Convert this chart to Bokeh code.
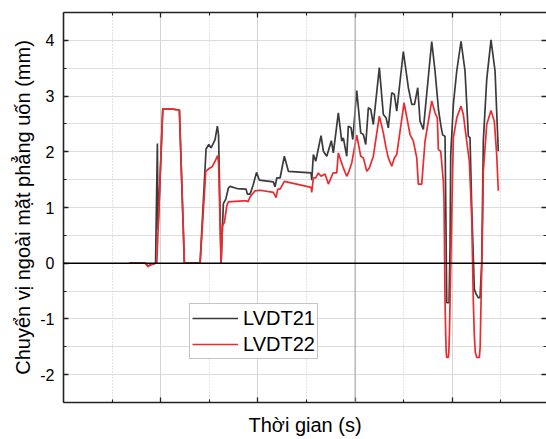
from bokeh.plotting import figure
from bokeh.models import FixedTicker, LinearAxis, Span, Legend, LegendItem, Range1d
from bokeh.embed import file_html
from bokeh.resources import INLINE

# ---- data (time in arbitrary units, displacement in mm) ----
t_lvdt21 = [135.0, 167.9, 174.1, 178.2, 189.5, 193.2, 194.6, 204.3, 219.3, 238.5, 248.8, 281.1,
            293.4, 299.0, 303.7, 307.8, 311.9, 316.7, 319.1, 324.3, 329.0, 334.0, 339.3, 342.8,
            357.2, 375.7, 378.4, 384.0, 390.1, 397.3, 403.1, 431.9, 435.4, 438.9, 445.7, 454.5,
            462.8, 509.5, 510.9, 514.2, 519.1, 530.0, 534.8, 541.8, 551.2, 555.4, 565.6, 572.6,
            575.9, 582.9, 586.2, 591.8, 595.3, 603.5, 611.7, 617.1, 622.0, 627.4, 632.3, 637.6,
            650.0, 658.2, 663.8, 668.5, 675.5, 680.9, 685.8, 699.4, 709.7, 716.7, 722.4, 729.0,
            733.7, 740.5, 757.8, 764.6, 771.8, 777.0, 780.4, 785.2, 786.6, 788.7, 793.4, 795.5,
            796.9, 802.3, 809.3, 818.1, 826.3, 831.0, 833.1, 836.6, 840.1, 845.5, 849.0, 853.7,
            857.2, 860.7, 864.0, 871.0, 879.8, 888.1, 894.8]
y_lvdt21 = [0.0, 0.0, -0.05, -0.03, 0.0, 2.15, 0.6, 2.77, 2.77, 2.75, 0.0, 0.0,
            2.05, 2.13, 2.07, 2.14, 2.22, 2.46, 2.30, 0.0, 1.07, 1.15, 1.35, 1.38,
            1.34, 1.33, 1.24, 1.24, 1.40, 1.63, 1.49, 1.46, 1.37, 1.53, 1.53, 1.92,
            1.65, 1.62, 1.49, 1.95, 1.83, 2.29, 2.01, 1.92, 2.20, 1.98, 2.70, 2.19,
            2.25, 1.92, 2.46, 2.43, 2.22, 3.10, 2.34, 2.31, 2.13, 2.79, 2.76, 2.49,
            3.51, 2.67, 2.61, 2.43, 3.06, 3.03, 2.73, 3.80, 3.15, 2.85, 2.85, 3.15,
            2.55, 2.40, 3.98, 3.45, 2.75, 2.45, 2.30, 2.28, 1.10, -0.71, -0.71, 0.30,
            1.95, 2.85, 3.45, 3.98, 3.45, 2.67, 2.28, 2.25, 1.00, -0.47, -0.55, -0.62,
            -0.62, 0.0, 2.20, 3.30, 4.01, 3.45, 2.01]

t_lvdt22 = [135.0, 167.9, 174.1, 178.2, 189.5, 192.0, 204.3, 219.3, 238.5, 248.8, 281.1, 292.8,
            299.6, 305.8, 311.9, 317.1, 319.1, 324.3, 327.0, 331.1, 336.0, 339.3, 370.2, 377.2,
            379.8, 384.0, 394.2, 404.5, 431.9, 437.5, 440.9, 445.7, 454.5, 509.5, 510.9, 514.2,
            519.1, 524.5, 530.0, 538.3, 545.1, 554.7, 562.3, 565.6, 575.9, 582.9, 586.2, 593.2,
            603.5, 611.7, 617.1, 624.1, 629.4, 637.6, 650.0, 658.2, 663.8, 668.5, 675.5, 680.9,
            685.8, 700.8, 713.2, 720.0, 727.0, 730.2, 737.2, 744.0, 757.8, 764.6, 769.3, 771.4,
            776.3, 781.7, 783.1, 785.2, 786.6, 787.6, 788.7, 792.0, 793.0, 794.4, 795.5, 799.0,
            802.3, 809.3, 818.1, 822.8, 829.8, 835.2, 840.1, 843.4, 845.5, 847.5, 850.4, 855.8,
            857.5, 859.3, 862.7, 864.0, 871.0, 879.8, 886.6, 891.5, 894.8]
y_lvdt22 = [0.0, 0.0, -0.06, -0.03, 0.0, 0.0, 2.77, 2.77, 2.75, 0.0, 0.0, 1.65,
            1.70, 1.73, 1.83, 1.93, 1.80, 0.0, 0.67, 0.73, 1.03, 1.10, 1.12, 1.12,
            1.10, 1.19, 1.30, 1.31, 1.27, 1.18, 1.33, 1.33, 1.47, 1.36, 1.27, 1.53,
            1.53, 1.62, 1.56, 1.60, 1.42, 1.62, 1.62, 1.98, 1.71, 1.56, 1.62, 1.80,
            2.30, 1.92, 1.89, 1.65, 1.71, 1.92, 2.64, 2.34, 2.07, 1.89, 1.74, 1.89,
            1.95, 2.88, 2.31, 2.19, 1.89, 1.42, 1.42, 2.19, 2.91, 2.70, 2.61, 2.04,
            2.01, 1.47, 1.12, -0.68, -1.30, -1.60, -1.69, -1.69, -1.60, -1.20, -0.68, 0.88,
            2.25, 2.61, 2.82, 2.67, 2.19, 1.83, 0.82, -0.68, -1.30, -1.60, -1.69, -1.69,
            -1.50, -0.68, 0.82, 1.65, 2.49, 2.74, 2.55, 1.95, 1.30]

x_major_ticks = [200, 400, 600, 800]
x_minor_ticks = [100, 300, 500, 700, 900]
y_major_ticks = [-2, -1, 0, 1, 2, 3, 4]
y_minor_ticks = [-2.5, -1.5, -0.5, 0.5, 1.5, 2.5, 3.5, 4.5]
y_tick_labels = ["-2", "-1", "0", "1", "2", "3", "4"]

FONT = "Liberation Sans"

p = figure(width=546, height=439, x_range=Range1d(0, 994), y_range=Range1d(-2.5, 4.5),
           output_backend="svg", toolbar_location=None,
           min_border_left=63, min_border_right=0, min_border_top=12, min_border_bottom=37)
p.outline_line_color = None
p.background_fill_color = "white"
p.border_fill_color = "white"

def style_axis(ax, ticks, minor, labels=True):
    ax.ticker = FixedTicker(ticks=ticks, minor_ticks=minor)
    ax.major_tick_in = 5
    ax.major_tick_out = 0
    ax.minor_tick_in = 3
    ax.minor_tick_out = 0
    ax.axis_line_width = 1.6
    ax.axis_line_color = "#222222"
    ax.major_tick_line_color = "#222222"
    ax.minor_tick_line_color = "#222222"
    ax.major_tick_line_width = 1.3
    ax.minor_tick_line_width = 1.1
    if not labels:
        ax.major_label_overrides = {t: "" for t in ticks}
        ax.major_label_standoff = 0

# bottom axis
style_axis(p.xaxis[0], x_major_ticks, x_minor_ticks, labels=False)
p.xaxis.axis_label = "Thời gian (s)"
p.xaxis.axis_label_text_font = FONT
p.xaxis.axis_label_text_font_size = "20px"
p.xaxis.axis_label_text_font_style = "normal"
p.xaxis.axis_label_text_color = "black"
p.xaxis.axis_label_standoff = 11

# left axis
style_axis(p.yaxis[0], y_major_ticks, y_minor_ticks)
p.yaxis.major_label_overrides = {t: s for t, s in zip(y_major_ticks, y_tick_labels)}
p.yaxis.major_label_text_font = FONT
p.yaxis.major_label_text_font_size = "16px"
p.yaxis.major_label_text_color = "black"
p.yaxis.major_label_standoff = 9
p.yaxis.axis_label = "Chuyển vị ngoài mặt phẳng uốn (mm)"
p.yaxis.axis_label_text_font = FONT
p.yaxis.axis_label_text_font_size = "20px"
p.yaxis.axis_label_text_font_style = "normal"
p.yaxis.axis_label_text_color = "black"
p.yaxis.axis_label_standoff = 3

# top axis (ticks only)
top = LinearAxis()
style_axis(top, x_major_ticks, x_minor_ticks, labels=False)
p.add_layout(top, "above")

# right axis (ticks only, frame continues past the window)
right = LinearAxis()
style_axis(right, y_major_ticks, y_minor_ticks, labels=False)
right.axis_line_color = None
p.add_layout(right, "right")

# grids
p.xgrid.grid_line_color = "#d4d4d4"
p.xgrid.grid_line_width = 1
p.xgrid.minor_grid_line_color = "#c4c4c4"
p.xgrid.minor_grid_line_dash = "1 2"
p.ygrid.grid_line_color = "#dcdcdc"
p.ygrid.minor_grid_line_color = "#dcdcdc"

p.add_layout(Span(location=600, dimension="height", line_color="#a8a8a8", line_width=1))
p.add_layout(Span(location=0, dimension="width", line_color="black", line_width=1.5))

r1 = p.line(t_lvdt21, y_lvdt21, line_color="#3b3b3b", line_width=1.7)
r2 = p.line(t_lvdt22, y_lvdt22, line_color="#ec2b30", line_width=1.7)

legend = Legend(items=[LegendItem(label="LVDT21", renderers=[r1]),
                       LegendItem(label="LVDT22", renderers=[r2])],
                location=(126, 43))
legend.label_text_font = FONT
legend.label_text_font_size = "20px"
legend.label_text_color = "black"
legend.glyph_width = 46
legend.glyph_height = 24
legend.label_height = 24
legend.label_standoff = 5
legend.spacing = 2
legend.padding = 2
legend.margin = 0
legend.border_line_color = "#8a8a8a"
legend.border_line_width = 1
legend.background_fill_alpha = 1
p.add_layout(legend)

open("out.html", "w").write(file_html(p, INLINE))
